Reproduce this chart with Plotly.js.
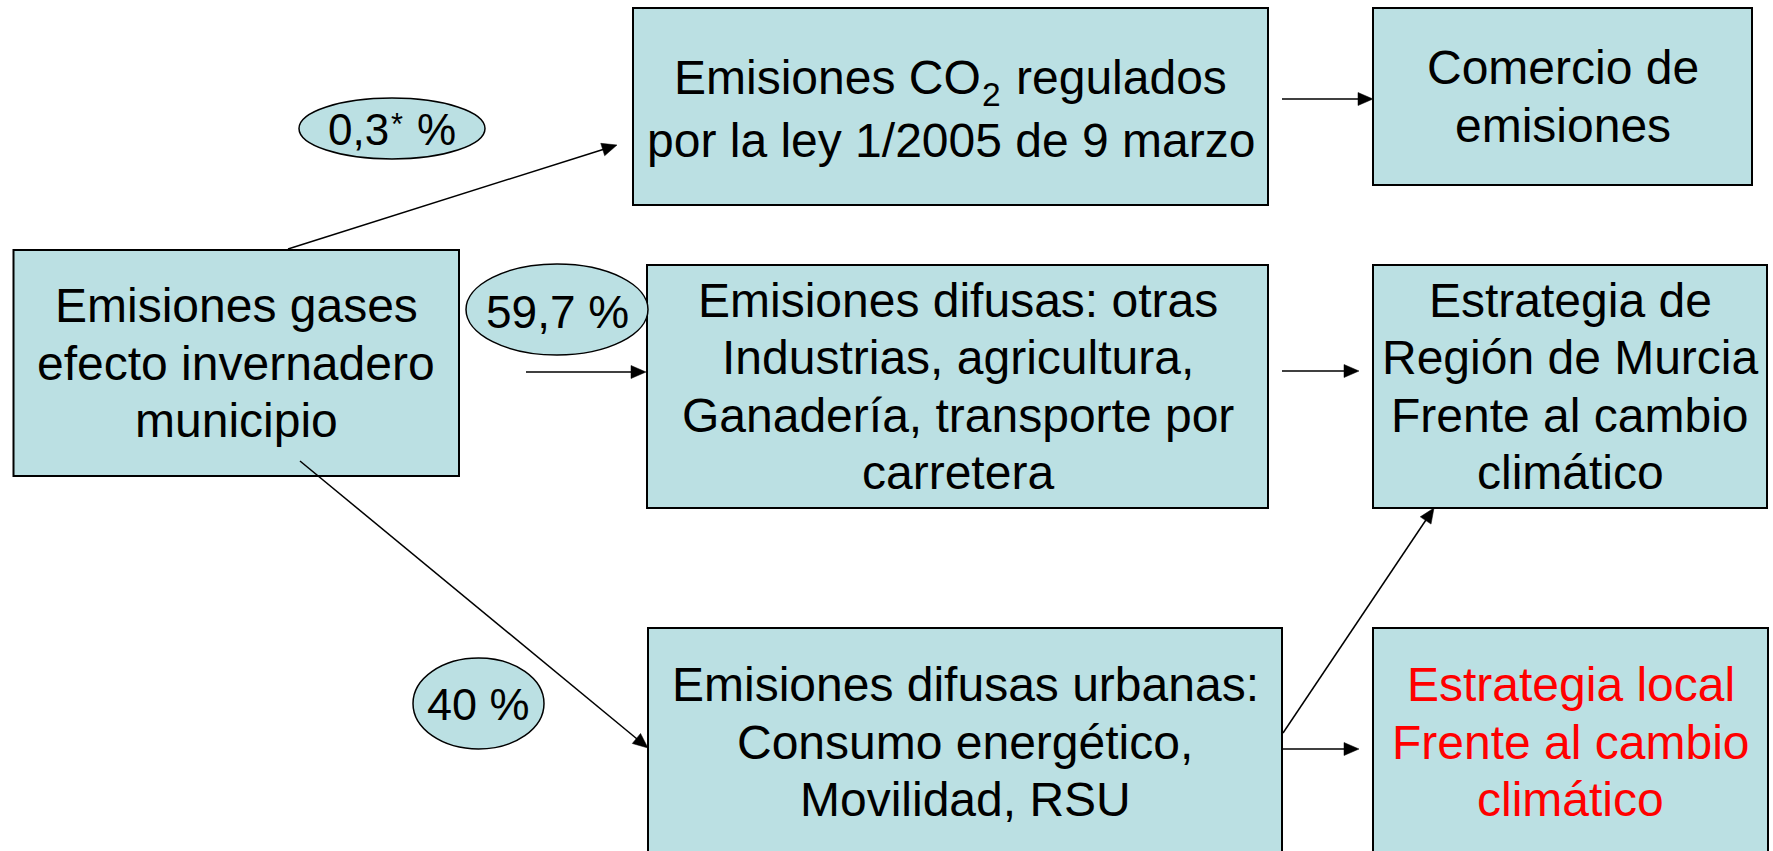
<!DOCTYPE html>
<html>
<head>
<meta charset="utf-8">
<script src="https://cdn.plot.ly/plotly-3.0.1.min.js"></script>
<style>html,body{margin:0;padding:0;background:#ffffff;overflow:hidden}</style>
</head>
<body>
<div id="chart" style="width:1773px;height:851px"></div>
<script>
// ---- content ----
const nodeLabels = [
  ['Emisiones gases', 'efecto invernadero', 'municipio'],
  ['Emisiones CO<sub>2</sub> regulados', 'por la ley 1/2005 de 9 marzo'],
  ['Comercio de', 'emisiones'],
  ['Emisiones difusas: otras', 'Industrias, agricultura,', 'Ganadería, transporte por', 'carretera'],
  ['Estrategia de', 'Región de Murcia', 'Frente al cambio', 'climático'],
  ['Emisiones difusas urbanas:', 'Consumo energético,', 'Movilidad, RSU'],
  ['Estrategia local', 'Frente al cambio', 'climático']
];
const nodeTextColors = ['#000000', '#000000', '#000000', '#000000', '#000000', '#000000', '#FF0000'];
const shareValues = [0.3, 59.7, 40];
const shareMarks = ['*', '', ''];
const links = [[0, 1], [0, 3], [0, 5], [1, 2], [3, 4], [5, 4], [5, 6]];

// ---- geometry (pixel-like data units, y downward) ----
const boxX0 = [13.5, 633, 1373, 647, 1373, 648, 1373];
const boxX1 = [459, 1268, 1752, 1268, 1767, 1282, 1768];
const boxY0 = [250, 8, 8, 265, 265, 628, 628];
const boxY1 = [476, 205, 185, 508, 508, 856, 856];
const ellX0 = [299, 466, 413];
const ellX1 = [485, 648, 544];
const ellY0 = [98, 264, 658];
const ellY1 = [159, 355, 749];
const ellBaseline = [145, 328, 720];
const ellFont = [44, 46, 45];
const arrowTail = [[288, 249], [526, 372], [300, 461], [1282, 99], [1282, 371], [1283, 733], [1283, 749]];
const arrowTip = [[617, 145], [646, 372], [648, 748], [1373, 99], [1359, 371], [1434, 508], [1359, 749]];

const FILL = '#BBE0E3';
const FONT_NAME = 'Liberation Sans';
const FONT = 'Liberation Sans, Arial, Helvetica, sans-serif';
const FS = 48;
const LINE_GAP = 57.5;
const HEAD_LEN = 15;
const HEAD_HALF = 6.5;
const ASCENT = 0.905;
const DESCENT = 0.212;
const SEG_GAP = 2;
const SUB_SHIFT = 0.23;

const shapes = [];
const annotations = [];

const ctx = document.createElement('canvas').getContext('2d');
function measure(t, size) {
  ctx.font = size + 'px "' + FONT_NAME + '"';
  return ctx.measureText(t).width;
}

// parse "a<sub>b</sub>c" into segments
function parseRich(text) {
  const segs = [];
  const re = /<(sub|sup)>(.*?)<\/\1>/g;
  let last = 0, m;
  while ((m = re.exec(text)) !== null) {
    if (m.index > last) segs.push({t: text.slice(last, m.index), kind: ''});
    segs.push({t: m[2], kind: m[1]});
    last = re.lastIndex;
  }
  if (last < text.length) segs.push({t: text.slice(last), kind: ''});
  return segs;
}

// place one text line centred on cx with the given baseline; returns lowest box edge
function placeLine(text, cx, baseline, fs, color, supShift) {
  const segs = parseRich(text);
  if (segs.length === 1) {
    annotations.push({
      xref: 'x', yref: 'y', x: cx, y: baseline - ASCENT * fs,
      xanchor: 'center', yanchor: 'top', showarrow: false,
      borderpad: 0, borderwidth: 0, text: text,
      font: {family: FONT, size: fs, color: color}
    });
    return baseline + DESCENT * fs;
  }
  let bottom = baseline + DESCENT * fs;
  segs.forEach(s => {
    s.size = s.kind ? fs * 0.7 : fs;
    s.w = measure(s.t, s.size) + (s.kind ? 2 * SEG_GAP : 0);
    s.pad = s.kind ? SEG_GAP : 0;
    s.base = baseline + (s.kind === 'sub' ? SUB_SHIFT * fs : s.kind === 'sup' ? -supShift * fs : 0);
    bottom = Math.max(bottom, s.base + DESCENT * s.size);
  });
  const total = segs.reduce((a, s) => a + s.w, 0);
  let x = cx - total / 2;
  segs.forEach(s => {
    const trimmed = s.t.replace(/^\s+/, '').replace(/\s+$/, '');
    const lead = measure(s.t.slice(0, s.t.length - s.t.replace(/^\s+/, '').length), s.size);
    if (trimmed.length) {
      annotations.push({
        xref: 'x', yref: 'y', x: x + s.pad + lead, y: s.base - ASCENT * s.size,
        xanchor: 'left', yanchor: 'top', showarrow: false,
        borderpad: 0, borderwidth: 0, text: trimmed,
        font: {family: FONT, size: s.size, color: color}
      });
    }
    x += s.w;
  });
  return bottom;
}

// boxes
for (let i = 0; i < nodeLabels.length; i++) {
  shapes.push({
    type: 'rect', xref: 'x', yref: 'y',
    x0: boxX0[i], x1: boxX1[i], y0: boxY0[i], y1: boxY1[i],
    fillcolor: FILL, line: {color: '#000000', width: 2}, layer: 'above'
  });
}
// ellipses
for (let i = 0; i < shareValues.length; i++) {
  shapes.push({
    type: 'circle', xref: 'x', yref: 'y',
    x0: ellX0[i], x1: ellX1[i], y0: ellY0[i], y1: ellY1[i],
    fillcolor: FILL, line: {color: '#000000', width: 1.5}, layer: 'above'
  });
}

// arrows: shaft + filled head
for (let k = 0; k < links.length; k++) {
  const tx = arrowTail[k][0], ty = arrowTail[k][1];
  const hx = arrowTip[k][0], hy = arrowTip[k][1];
  const len = Math.hypot(hx - tx, hy - ty);
  const dx = (hx - tx) / len, dy = (hy - ty) / len;
  const bx = hx - dx * HEAD_LEN, by = hy - dy * HEAD_LEN;
  const px = -dy, py = dx;
  shapes.push({
    type: 'line', xref: 'x', yref: 'y',
    x0: tx, y0: ty, x1: bx + dx * 2, y1: by + dy * 2,
    line: {color: '#000000', width: 1.5}, layer: 'above'
  });
  shapes.push({
    type: 'path', xref: 'x', yref: 'y',
    path: 'M' + hx + ',' + hy +
          ' L' + (bx + px * HEAD_HALF) + ',' + (by + py * HEAD_HALF) +
          ' L' + (bx - px * HEAD_HALF) + ',' + (by - py * HEAD_HALF) + ' Z',
    fillcolor: '#000000', line: {color: '#000000', width: 0.5}, layer: 'above'
  });
}

// node text, one annotation per line (cap-height centred)
for (let i = 0; i < nodeLabels.length; i++) {
  const lines = nodeLabels[i];
  const n = lines.length;
  const cx = (boxX0[i] + boxX1[i]) / 2;
  const cy = (boxY0[i] + boxY1[i]) / 2;
  let prevBottom = -Infinity;
  for (let j = 0; j < n; j++) {
    const capMid = cy + (j - (n - 1) / 2) * LINE_GAP;
    let baseline = capMid + 0.358 * FS;
    const top = baseline - ASCENT * FS;
    if (top < prevBottom + 0.5) baseline += prevBottom + 0.5 - top;
    prevBottom = placeLine(lines[j], cx, baseline, FS, nodeTextColors[i], 0.2);
  }
}

// share labels in ellipses
for (let i = 0; i < shareValues.length; i++) {
  const label = String(shareValues[i]).replace('.', ',') +
    (shareMarks[i] ? '<sup>' + shareMarks[i] + '</sup>' : '') + ' %';
  placeLine(label, (ellX0[i] + ellX1[i]) / 2, ellBaseline[i], ellFont[i], '#000000', 0.22);
}

const layout = {
  width: 1773, height: 851,
  margin: {l: 0, r: 0, t: 0, b: 0, pad: 0},
  paper_bgcolor: '#ffffff', plot_bgcolor: '#ffffff',
  showlegend: false,
  xaxis: {range: [0, 1773], visible: false, fixedrange: true},
  yaxis: {range: [851, 0], visible: false, fixedrange: true},
  shapes: shapes,
  annotations: annotations
};

Plotly.newPlot('chart', [], layout, {staticPlot: true, displayModeBar: false});
</script>
</body>
</html>
